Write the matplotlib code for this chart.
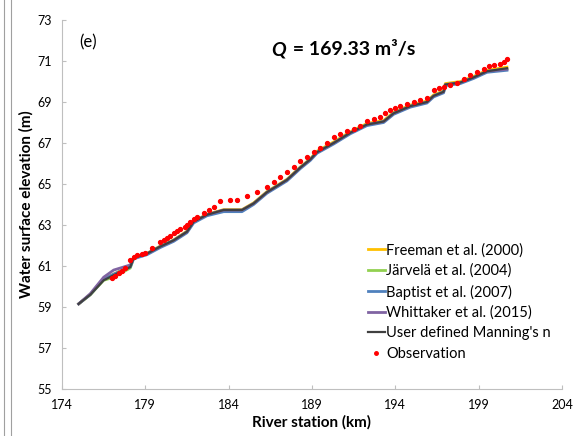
import matplotlib.pyplot as plt
from matplotlib.lines import Line2D

plt.rcParams['font.family'] = ['Lato', 'DejaVu Sans']

# model profiles (river station km, water surface elevation m)
station = [175.0, 175.7, 176.5, 177.1, 178.1, 178.3, 179.1, 179.9, 180.7, 181.5,
           181.9, 182.7, 183.7, 184.8, 185.5, 186.3, 187.5, 188.3, 188.9, 189.3,
           190.3, 191.3, 192.3, 193.3, 193.9, 194.9, 195.9, 196.3, 196.9, 197.0,
           197.9, 198.7, 199.5, 200.7]
user_n = [59.15, 59.6, 60.3, 60.55, 60.95, 61.4, 61.6, 61.95, 62.25, 62.67,
          63.16, 63.5, 63.73, 63.73, 64.05, 64.6, 65.2, 65.8, 66.2, 66.55,
          67.0, 67.5, 67.9, 68.05, 68.45, 68.8, 69.0, 69.3, 69.5, 69.85,
          69.95, 70.2, 70.5, 70.65]
freeman = [59.15, 59.6, 60.35, 60.6, 61.0, 61.42, 61.62, 61.97, 62.27, 62.7,
           63.18, 63.52, 63.75, 63.75, 64.08, 64.63, 65.23, 65.83, 66.23, 66.6,
           67.05, 67.55, 67.95, 68.1, 68.5, 68.85, 69.05, 69.35, 69.55, 69.9,
           70.0, 70.25, 70.55, 70.7]
jarvela = [59.15, 59.6, 60.3, 60.45, 60.9, 61.38, 61.6, 61.95, 62.25, 62.67,
           63.15, 63.5, 63.72, 63.72, 64.05, 64.6, 65.2, 65.8, 66.2, 66.55,
           67.0, 67.5, 67.9, 68.05, 68.45, 68.8, 69.0, 69.3, 69.5, 69.85,
           69.95, 70.2, 70.48, 70.62]
baptist = [59.15, 59.6, 60.35, 60.6, 60.95, 61.35, 61.55, 61.9, 62.2, 62.62,
           63.1, 63.45, 63.65, 63.65, 64.0, 64.55, 65.15, 65.75, 66.15, 66.5,
           66.95, 67.45, 67.85, 68.0, 68.4, 68.75, 68.95, 69.25, 69.45, 69.8,
           69.9, 70.15, 70.45, 70.55]
whittaker = [59.15, 59.65, 60.45, 60.8, 61.05, 61.42, 61.6, 61.95, 62.25, 62.67,
             63.16, 63.5, 63.73, 63.73, 64.05, 64.6, 65.2, 65.8, 66.2, 66.55,
             67.0, 67.5, 67.9, 68.05, 68.45, 68.8, 69.0, 69.3, 69.5, 69.85,
             69.95, 70.2, 70.5, 70.6]

# observed water levels
obs_station = [177.0, 177.2, 177.4, 177.6, 177.8, 178.1, 178.3, 178.5, 178.8, 179.0,
               179.4, 179.9, 180.1, 180.3, 180.5, 180.7, 180.9, 181.1, 181.4, 181.5,
               181.7, 181.9, 182.1, 182.5, 182.8, 183.1, 183.5, 184.1, 184.5, 185.1,
               185.7, 186.3, 186.7, 187.1, 187.5, 187.9, 188.3, 188.7, 189.1, 189.5,
               189.9, 190.3, 190.7, 191.1, 191.5, 191.9, 192.3, 192.7, 193.1, 193.4,
               193.7, 194.0, 194.3, 194.7, 195.1, 195.5, 195.9, 196.3, 196.6, 196.9,
               197.3, 197.7, 198.1, 198.5, 198.9, 199.3, 199.6, 199.9, 200.3, 200.5,
               200.7]
obs_wse = [60.4, 60.52, 60.64, 60.76, 60.89, 61.3, 61.45, 61.55, 61.6, 61.65,
           61.86, 62.18, 62.25, 62.35, 62.45, 62.6, 62.7, 62.78, 62.9, 63.0,
           63.16, 63.3, 63.4, 63.57, 63.75, 63.9, 64.15, 64.2, 64.2, 64.4,
           64.6, 64.85, 65.1, 65.36, 65.6, 65.85, 66.1, 66.33, 66.55, 66.74,
           67.0, 67.3, 67.45, 67.6, 67.7, 67.85, 68.05, 68.15, 68.28, 68.45,
           68.6, 68.7, 68.8, 68.9, 69.0, 69.1, 69.2, 69.6, 69.7, 69.75,
           69.85, 69.95, 70.1, 70.3, 70.45, 70.6, 70.75, 70.8, 70.85, 70.95,
           71.1]

x_ticks = [174, 179, 184, 189, 194, 199, 204]
y_ticks = [55, 57, 59, 61, 63, 65, 67, 69, 71, 73]

fig = plt.figure(figsize=(5.74, 4.36), dpi=100)
ax = fig.add_axes([0.108, 0.108, 0.871, 0.846])

ax.plot(station, freeman, color='#ffc000', lw=2, label='Freeman et al. (2000)')
ax.plot(station, jarvela, color='#92d050', lw=2, label='Järvelä et al. (2004)')
ax.plot(station, baptist, color='#4f81bd', lw=2, label='Baptist et al. (2007)')
ax.plot(station, whittaker, color='#8064a2', lw=2, label='Whittaker et al. (2015)')
ax.plot(station, user_n, color='#404040', lw=1.6, label="User defined Manning's n")
ax.plot(obs_station, obs_wse, ls='none', marker='o', ms=2.8, color='#ff0000',
        label='Observation')

ax.set_xlim(174, 204)
ax.set_ylim(55, 73)
ax.set_xticks(x_ticks)
ax.set_yticks(y_ticks)
ax.tick_params(direction='in', length=3, color='#bfbfbf', labelsize=9, pad=7)
for s in ['top', 'right']:
    ax.spines[s].set_visible(False)
for s in ['left', 'bottom']:
    ax.spines[s].set_color('#bfbfbf')

ax.set_xlabel('River station (km)', fontsize=11, fontweight='bold', labelpad=3)
ax.set_ylabel('Water surface elevation (m)', fontsize=11, fontweight='bold', labelpad=3)

ax.text(0.035, 0.94, '(e)', transform=ax.transAxes, fontsize=12, va='center')
ax.text(0.448, 0.92, 'Q', transform=ax.transAxes, fontsize=14, fontweight='bold',
        fontstyle='italic', ha='right', va='center')
ax.text(0.452, 0.92, ' = 169.33 m³/s', transform=ax.transAxes, fontsize=14,
        fontweight='bold', ha='left', va='center')

ax.legend(loc='upper left', bbox_to_anchor=(0.612, 0.395), frameon=False,
          borderaxespad=0, borderpad=0,
          fontsize=10.5, handlelength=1.15, handletextpad=0.1, labelspacing=0.43,
          markerscale=0.9)

# frame lines at left edge of the figure
fig.add_artist(Line2D([4 / 574, 4 / 574], [0, 1], color='#a0a0a0', lw=0.8))
fig.add_artist(Line2D([10.5 / 574, 10.5 / 574], [0, 1], color='#a0a0a0', lw=0.8))

fig.savefig('out.png', dpi=100)
